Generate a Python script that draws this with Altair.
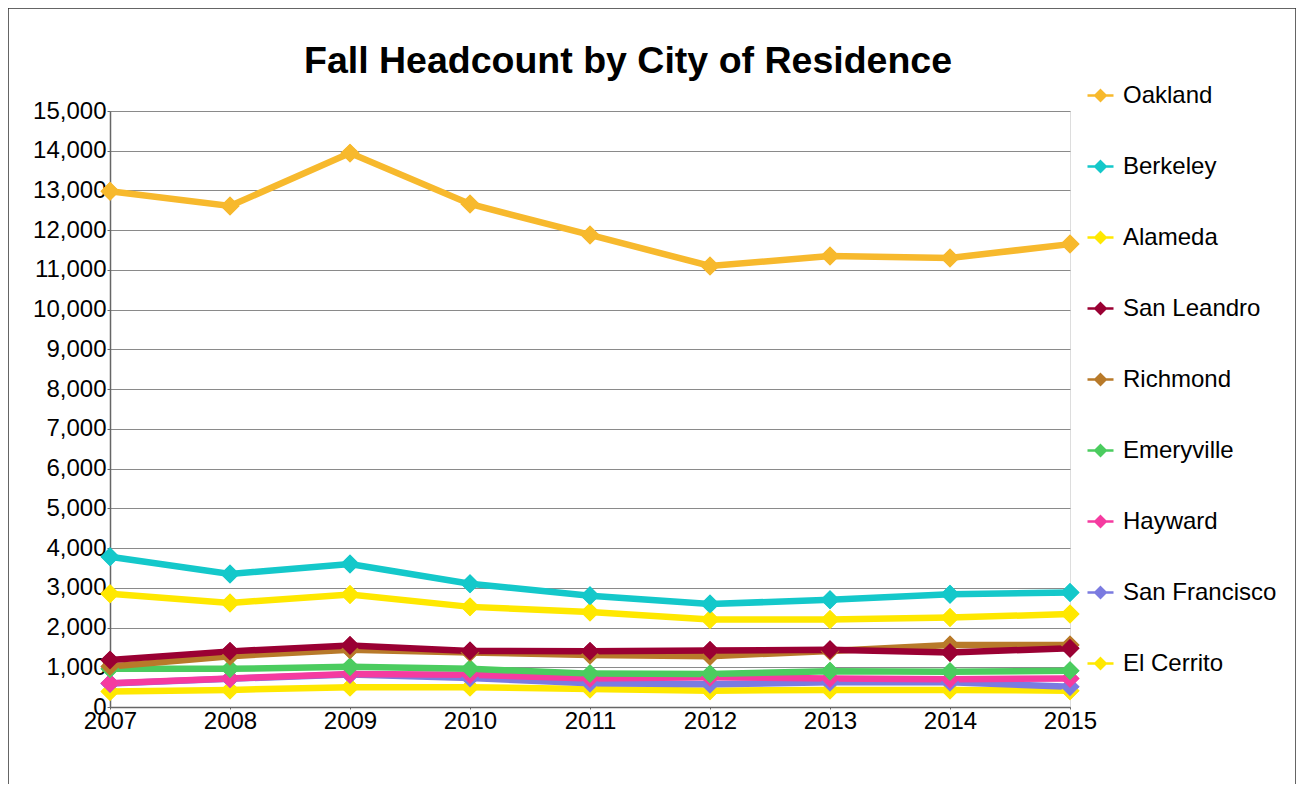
import altair as alt
import pandas as pd

years = [2007, 2008, 2009, 2010, 2011, 2012, 2013, 2014, 2015]
cities = ["Oakland", "Berkeley", "Alameda", "San Leandro", "Richmond",
          "Emeryville", "Hayward", "San Francisco", "El Cerrito"]
colors = ["#F7B92D", "#14C8CA", "#FFE800", "#9A0033", "#B87A2A",
          "#4BCC5F", "#F53BA0", "#7B7BE0", "#FFE800"]
title_text = "Fall Headcount by City of Residence"

oakland = [12980, 12610, 13940, 12660, 11880, 11100, 11350, 11300, 11650]
berkeley = [3780, 3350, 3600, 3100, 2800, 2590, 2700, 2840, 2880]
alameda = [2850, 2620, 2830, 2520, 2390, 2200, 2200, 2250, 2340]
san_leandro = [1180, 1400, 1550, 1410, 1400, 1420, 1440, 1370, 1480]
richmond = [1020, 1280, 1440, 1370, 1310, 1280, 1410, 1560, 1560]
emeryville = [960, 960, 1010, 960, 840, 830, 900, 890, 910]
hayward = [600, 720, 830, 810, 720, 750, 720, 700, 720]
san_francisco = [590, 710, 820, 730, 600, 570, 620, 620, 510]
el_cerrito = [390, 430, 500, 500, 450, 410, 430, 430, 410]

series = [oakland, berkeley, alameda, san_leandro, richmond,
          emeryville, hayward, san_francisco, el_cerrito]

rows = []
# reverse order so that earlier series are drawn on top
for name, vals in reversed(list(zip(cities, series))):
    for y, v in zip(years, vals):
        rows.append({"Year": y, "City": name, "Headcount": v})
df = pd.DataFrame(rows)

FONT = "Liberation Sans"

x_enc = alt.X("Year:Q", scale=alt.Scale(domain=[2007, 2015], nice=False),
              axis=alt.Axis(values=years, format="d", title=None, grid=False,
                            labelFontSize=24, labelFont=FONT, labelColor="#000000",
                            tickSize=2, labelPadding=0, tickColor="#666666",
                            domainColor="#666666", domainWidth=1.5,
                            labelFlush=False, labelOverlap=False))
y_enc = alt.Y("Headcount:Q", scale=alt.Scale(domain=[0, 15000], nice=False),
              axis=alt.Axis(values=list(range(0, 15001, 1000)), format=",d", title=None,
                            grid=True, gridColor="#8a8a8a", gridWidth=1,
                            labelFontSize=24, labelFont=FONT, labelColor="#000000",
                            tickSize=3, labelPadding=1, tickColor="#666666",
                            domainColor="#666666", domainWidth=1.5,
                            labelOverlap=False))
color_scale = alt.Scale(domain=cities, range=colors)

legend = alt.Legend(title=None, orient="none", legendX=976, legendY=-30,
                    labelFontSize=24, labelFont=FONT, labelColor="#000000",
                    symbolType="M-1,0L1,0M0,-0.4L0.4,0L0,0.4L-0.4,0Z",
                    symbolSize=676, symbolStrokeWidth=2.5, rowPadding=44,
                    labelOffset=8, labelLimit=300)

points = alt.Chart(df).mark_point(shape="diamond", filled=True, size=360, opacity=1).encode(
    x=x_enc, y=y_enc,
    color=alt.Color("City:N", scale=color_scale, sort=cities, legend=legend),
)
lines = alt.Chart(df).mark_line(strokeWidth=6.5).encode(
    x=x_enc, y=y_enc,
    color=alt.Color("City:N", scale=color_scale, sort=cities, legend=None),
)

frame = alt.Chart(pd.DataFrame({"a": [0]})).mark_rect(
    fill=None, stroke="#333333", strokeWidth=1.5).encode(
    x=alt.value(-102), x2=alt.value(1186), y=alt.value(-103), y2=alt.value(720))

title = alt.Chart(pd.DataFrame({"t": [title_text]})).mark_text(
    fontSize=37.5, font=FONT, fontWeight="bold", color="#000000",
    align="center", baseline="alphabetic").encode(
    text="t:N", x=alt.value(518), y=alt.value(-38))

chart = alt.layer(frame, title, points, lines, points.encode(
    color=alt.Color("City:N", scale=color_scale, sort=cities, legend=None))).properties(
    width=960, height=596,
    padding={"left": 102, "top": 103, "right": 226, "bottom": 77},
    autosize=alt.AutoSizeParams(type="none"),
).configure_view(stroke="#8a8a8a", strokeWidth=1).configure(background="#ffffff")

chart.save("out.html", embed_options={"renderer": "svg", "actions": False})
